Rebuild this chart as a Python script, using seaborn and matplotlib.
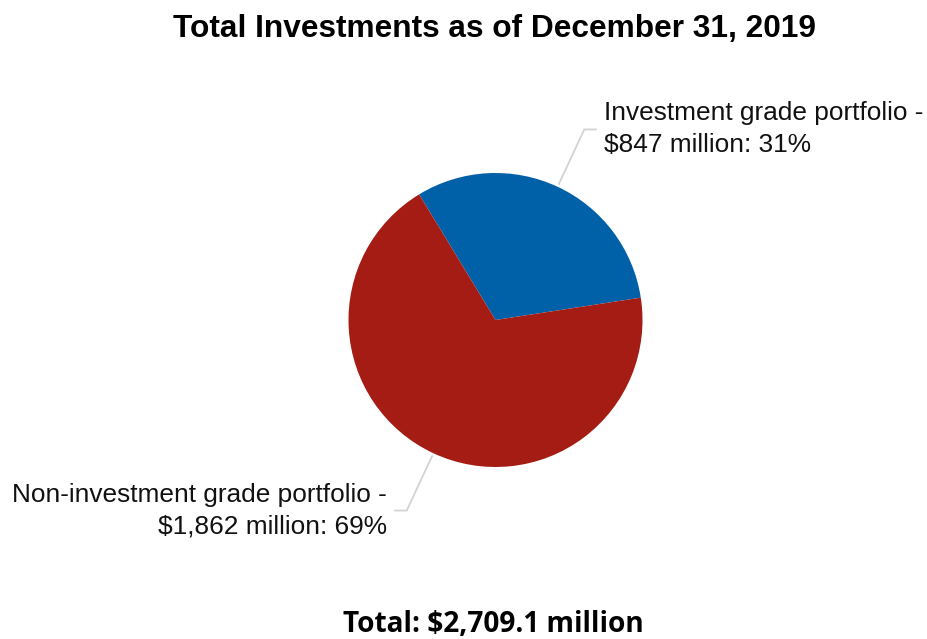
import numpy as np
import matplotlib
matplotlib.use("Agg")
import matplotlib.pyplot as plt
import seaborn as sns

# ---- data ----
categories = ["Investment grade portfolio", "Non-investment grade portfolio"]
values_musd = [847, 1862]
percents = [31, 69]
total_label = "Total: $2,709.1 million"
title = "Total Investments as of December 31, 2019"
colors = ["#0060A8", "#A51C14"]

sns.set_theme(style="white")
plt.rcParams["font.family"] = ["Liberation Sans", "DejaVu Sans"]

W, H = 927, 639
fig = plt.figure(figsize=(W / 100, H / 100), dpi=100)
ax = fig.add_axes([0, 0, 1, 1])

cx, cy, R = 495.5, H - 320, 147
start = 121.3
wedges, _ = ax.pie(values_musd, colors=colors, startangle=start, counterclock=False,
                   center=(cx, cy), radius=R, frame=True,
                   wedgeprops=dict(linewidth=0, antialiased=True))
ax.set_xlim(0, W)
ax.set_ylim(0, H)
ax.set_aspect("equal")
ax.axis("off")

labels = [f"{categories[0]} -\n${values_musd[0]:,} million: {percents[0]}%",
          f"{categories[1]} -\n${values_musd[1]:,} million: {percents[1]}%"]

for w, lab in zip(wedges, labels):
    mid = np.deg2rad((w.theta1 + w.theta2) / 2)
    x0, y0 = cx + 1.02 * R * np.cos(mid), cy + 1.02 * R * np.sin(mid)
    x1, y1 = cx + 1.43 * R * np.cos(mid), cy + 1.43 * R * np.sin(mid)
    side = 1 if np.cos(mid) > 0 else -1
    x2 = x1 + side * 12
    ax.plot([x0, x1, x2], [y0, y1, y1], color="#D3D3D3", lw=1.3, zorder=0,
            solid_joinstyle="miter")
    ax.text(x2 + side * 8, y1, lab, ha="left" if side > 0 else "right",
            va="center", multialignment="left" if side > 0 else "right",
            fontsize=18.9, linespacing=1.42, color="#111111")

ax.text(W / 2 + 31, H - 29.5, title, ha="center", va="center",
        fontsize=22.8, fontweight="bold", color="black")
ax.text(493, H - 625, total_label, ha="center", va="center",
        fontsize=20.2, fontweight="bold", family=["Open Sans", "DejaVu Sans"],
        color="black")

fig.savefig("out.png", dpi=100)
